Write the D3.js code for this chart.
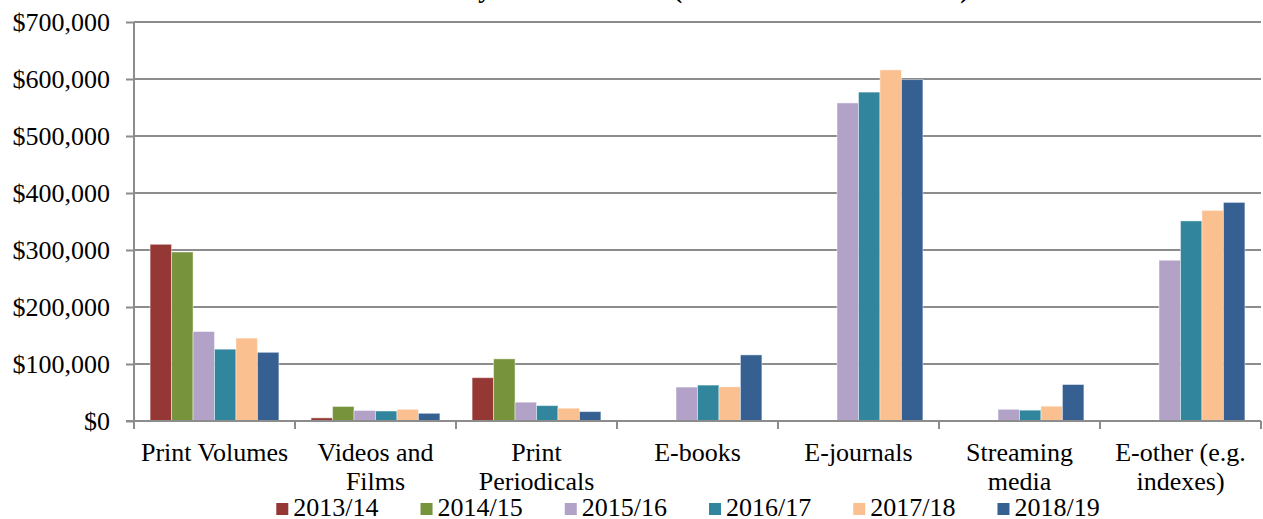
<!DOCTYPE html>
<html>
<head>
<meta charset="utf-8">
<script src="https://cdn.jsdelivr.net/npm/d3@7"></script>
<style>
  html, body { margin: 0; padding: 0; background: #fff; }
  svg { display: block; }
</style>
</head>
<body>
<svg id="chart" width="1263" height="519"></svg>
<script>
// ---- Data ----
const title = "Library Resource Costs (2013/14 to 2018/19 Totals)";
const categories = ["Print Volumes", "Videos and\nFilms", "Print\nPeriodicals", "E-books", "E-journals", "Streaming\nmedia", "E-other (e.g.\nindexes)"];
const seriesNames = ["2013/14", "2014/15", "2015/16", "2016/17", "2017/18", "2018/19"];
const seriesColors = ["#953735", "#77933C", "#B3A2C7", "#31859C", "#FAC090", "#376092"];
const v2013_14 = [310000, 5500, 76000, null, null, null, null];
const v2014_15 = [296500, 25500, 109000, null, null, null, null];
const v2015_16 = [157000, 18500, 33000, 59500, 558000, 20500, 282000];
const v2016_17 = [126000, 17500, 27000, 63000, 577000, 19000, 351000];
const v2017_18 = [145500, 20500, 22500, 60000, 616000, 26000, 369500];
const v2018_19 = [120500, 13500, 16500, 116000, 599000, 64000, 383500];
const seriesValues = [v2013_14, v2014_15, v2015_16, v2016_17, v2017_18, v2018_19];
const yTicks = [0, 100000, 200000, 300000, 400000, 500000, 600000, 700000];

(function () {
const FONT = "Liberation Serif";
const svg = d3.select("#chart");
const mLeft = 134, mRight = 1261, mTop = 22, mBottom = 421;

const x0 = d3.scaleBand().domain(categories).range([mLeft, mRight]).paddingInner(0).paddingOuter(0);
const x1 = d3.scaleBand().domain(seriesNames).range([0, x0.bandwidth()]).paddingInner(0).paddingOuter(0.75);
const y = d3.scaleLinear().domain([0, 700000]).range([mBottom, mTop]);

// gridlines
svg.append("g").selectAll("line").data(yTicks.filter(d => d > 0)).join("line")
  .attr("x1", mLeft).attr("x2", mRight)
  .attr("y1", d => y(d)).attr("y2", d => y(d))
  .attr("stroke", "#8c8c8c").attr("stroke-width", 2);

// bars
const rows = [];
categories.forEach((c, ci) => {
  seriesNames.forEach((s, si) => {
    const v = seriesValues[si][ci];
    if (v != null) rows.push({ c, s, si, v });
  });
});
svg.append("g").selectAll("rect").data(rows).join("rect")
  .attr("x", d => x0(d.c) + x1(d.s))
  .attr("y", d => y(d.v))
  .attr("width", x1.bandwidth())
  .attr("height", d => y(0) - y(d.v))
  .attr("fill", d => seriesColors[d.si])
  .attr("stroke", "rgba(255,255,255,0.45)")
  .attr("stroke-width", 1);

// y axis
const yAxis = d3.axisLeft(y).tickValues(yTicks).tickSize(8).tickPadding(16)
  .tickFormat(d => "$" + d3.format(",")(d));
const yg = svg.append("g").attr("transform", `translate(${mLeft},0)`).call(yAxis);
yg.select(".domain").attr("stroke", "#8c8c8c").attr("stroke-width", 2).attr("d", `M0,${mTop}V${mBottom + 1}`);
yg.selectAll(".tick line").attr("stroke", "#8c8c8c").attr("stroke-width", 2);
yg.selectAll(".tick text").style("font-family", FONT).style("font-size", "26px").attr("fill", "#000").attr("dy", "0.34em");

// x axis
const xg = svg.append("g").attr("transform", `translate(0,${mBottom})`);
xg.append("line").attr("x1", mLeft - 8).attr("x2", mRight).attr("y1", 0).attr("y2", 0)
  .attr("stroke", "#8c8c8c").attr("stroke-width", 2);
const boundaries = categories.map(c => x0(c)).concat([x0.range()[1]]);
xg.selectAll("line.tk").data(boundaries).join("line").attr("class", "tk")
  .attr("x1", d => d).attr("x2", d => d).attr("y1", 0).attr("y2", 8)
  .attr("stroke", "#8c8c8c").attr("stroke-width", 2);
const labels = xg.selectAll("text.cat").data(categories).join("text").attr("class", "cat")
  .attr("x", d => x0(d) + x0.bandwidth() / 2)
  .attr("text-anchor", "middle")
  .attr("fill", "#000")
  .style("font-family", FONT)
  .style("font-size", "26px");
labels.each(function(d) {
  const lines = d.split("\n");
  const t = d3.select(this);
  lines.forEach((ln, i) => {
    t.append("tspan").attr("x", x0(d) + x0.bandwidth() / 2).attr("y", 40 + i * 29).text(ln);
  });
});

// title (mostly above the visible area)
svg.append("text").attr("x", 686).attr("y", -2).attr("text-anchor", "middle")
  .style("font-family", FONT).style("font-size", "26px").style("font-weight", "bold").text(title);

// legend
const legend = svg.append("g");
const items = legend.selectAll("g").data(seriesNames).join("g");
items.append("rect").attr("width", 12).attr("height", 12).attr("y", -13)
  .attr("fill", (d, i) => seriesColors[i]);
items.append("text").attr("x", 17).attr("y", 0).attr("fill", "#000")
  .style("font-family", FONT).style("font-size", "26px").text(d => d);
let xpos = 0;
const gap = 42;
items.each(function() {
  const w = this.getBBox().width;
  d3.select(this).attr("transform", `translate(${xpos},0)`);
  xpos += w + gap;
});
const totalW = xpos - gap;
legend.attr("transform", `translate(${688 - totalW / 2},516)`);
})();
</script>
</body>
</html>
